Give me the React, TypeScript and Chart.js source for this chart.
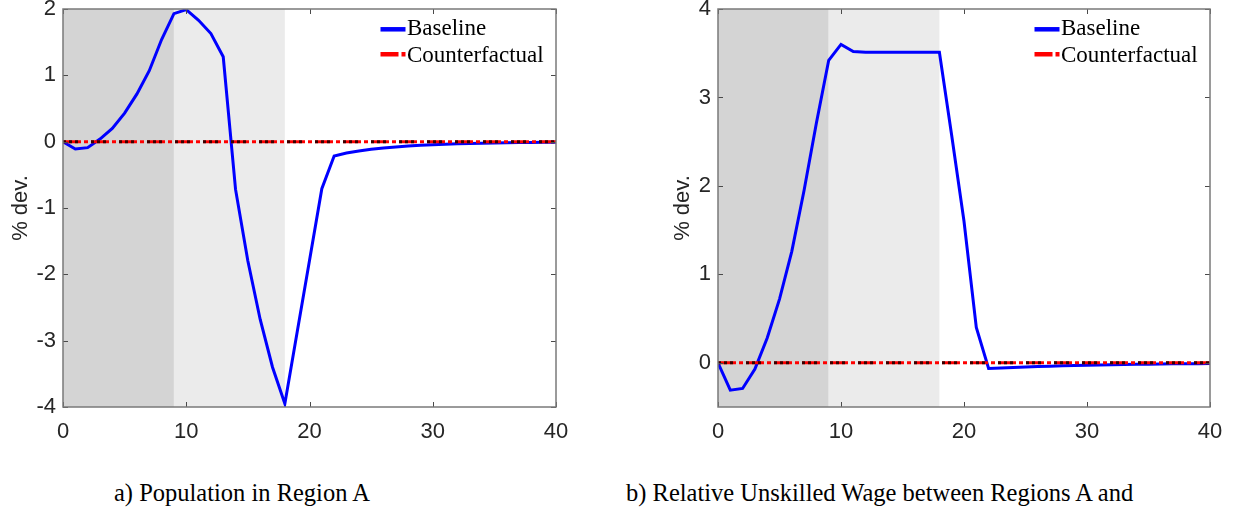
import React, { useEffect, useRef } from "react";
import { Chart, registerables } from "chart.js";

Chart.register(...registerables);

// ---------- data ----------
const periods = [0, 1, 2, 3, 4, 5, 6, 7, 8, 9, 10, 11, 12, 13, 14, 15, 16, 17, 18, 19, 20, 21, 22, 23, 24, 25, 26, 27, 28, 29, 30, 31, 32, 33, 34, 35, 36, 37, 38, 39, 40];

const populationBaseline = [0, -0.11, -0.09, 0.04, 0.2, 0.43, 0.72, 1.07, 1.54, 1.93, 1.99, 1.83, 1.63, 1.28, -0.72, -1.8, -2.68, -3.4, -3.95, -2.87, -1.79, -0.71, -0.215, -0.17, -0.14, -0.115, -0.095, -0.08, -0.065, -0.055, -0.045, -0.038, -0.032, -0.027, -0.023, -0.019, -0.016, -0.013, -0.011, -0.009, -0.008];
const populationCounterfactual = [0, 0, 0, 0, 0, 0, 0, 0, 0, 0, 0, 0, 0, 0, 0, 0, 0, 0, 0, 0, 0, 0, 0, 0, 0, 0, 0, 0, 0, 0, 0, 0, 0, 0, 0, 0, 0, 0, 0, 0, 0];

const wageBaseline = [0, -0.31, -0.29, -0.07, 0.28, 0.72, 1.26, 1.95, 2.71, 3.42, 3.6, 3.52, 3.51, 3.51, 3.51, 3.51, 3.51, 3.51, 3.51, 2.57, 1.6, 0.4, -0.065, -0.058, -0.052, -0.047, -0.042, -0.038, -0.034, -0.031, -0.028, -0.025, -0.022, -0.02, -0.018, -0.016, -0.014, -0.012, -0.011, -0.01, -0.009];
const wageCounterfactual = [0, 0, 0, 0, 0, 0, 0, 0, 0, 0, 0, 0, 0, 0, 0, 0, 0, 0, 0, 0, 0, 0, 0, 0, 0, 0, 0, 0, 0, 0, 0, 0, 0, 0, 0, 0, 0, 0, 0, 0, 0];

const steadyStateLine = [0, 0, 0, 0, 0, 0, 0, 0, 0, 0, 0, 0, 0, 0, 0, 0, 0, 0, 0, 0, 0, 0, 0, 0, 0, 0, 0, 0, 0, 0, 0, 0, 0, 0, 0, 0, 0, 0, 0, 0, 0];

const xTickValues = [0, 10, 20, 30, 40];
const populationYTicks = [-4, -3, -2, -1, 0, 1, 2];
const wageYTicks = [0, 1, 2, 3, 4];

const shadeStart = [0, 9];
const shadeEnd = [9, 18];

const legendLabels = ["Baseline", "Counterfactual"];
const yAxisTitle = "% dev.";
const captionA = "a) Population in Region A";
const captionB = "b) Relative Unskilled Wage between Regions A and";

// ---------- styles ----------
const FONT_SANS = '"Liberation Sans", Arial, sans-serif';
const FONT_SERIF = '"Liberation Serif", "Times New Roman", serif';
const TEXT_COLOR = "#262626";
const SHADE_COLORS = ["#d4d4d4", "#ebebeb"];
const CANVAS_H = 450;
const PLOT_TOP = 9;
const PLOT_BOTTOM = 407;

type PanelSpec = {
  canvasLeft: number;
  canvasWidth: number;
  plotLeft: number;
  plotRight: number;
  baseline: number[];
  counterfactual: number[];
  yMin: number;
  yMax: number;
  yTicks: number[];
  titlePad: number;
};

const shadingPlugin = {
  id: "shading",
  beforeDraw(chart: any) {
    const { ctx, chartArea, scales } = chart;
    const x = scales.x;
    ctx.save();
    shadeStart.forEach((s, i) => {
      const x0 = x.getPixelForValue(s);
      const x1 = x.getPixelForValue(shadeEnd[i]);
      ctx.fillStyle = SHADE_COLORS[i];
      ctx.fillRect(x0, chartArea.top, x1 - x0, chartArea.bottom - chartArea.top);
    });
    ctx.restore();
  },
};

const framePlugin = {
  id: "frame",
  afterDraw(chart: any) {
    const { ctx, chartArea, scales } = chart;
    const { left, right, top, bottom } = chartArea;
    const x = scales.x;
    const y = scales.y;
    const tl = 5;
    ctx.save();
    ctx.strokeStyle = "#4a4a4a";
    ctx.lineWidth = 1;
    ctx.beginPath();
    x.ticks.forEach((t: any) => {
      const px = Math.round(x.getPixelForValue(t.value)) + 0.5;
      ctx.moveTo(px, bottom);
      ctx.lineTo(px, bottom - tl);
      ctx.moveTo(px, top);
      ctx.lineTo(px, top + tl);
    });
    y.ticks.forEach((t: any) => {
      const py = Math.round(y.getPixelForValue(t.value)) + 0.5;
      ctx.moveTo(left, py);
      ctx.lineTo(left + tl, py);
      ctx.moveTo(right, py);
      ctx.lineTo(right - tl, py);
    });
    ctx.stroke();
    ctx.strokeStyle = "#7a7a7a";
    ctx.lineWidth = 1.5;
    ctx.strokeRect(left, top, right - left, bottom - top);
    ctx.restore();
  },
};

const legendPlugin = {
  id: "insideLegend",
  afterDraw(chart: any) {
    const { ctx, chartArea } = chart;
    const { right, top } = chartArea;
    ctx.save();
    chart.data.datasets.slice(0, 2).forEach((ds: any, i: number) => {
      const sy = top + 20.3 + i * 25;
      ctx.beginPath();
      ctx.setLineDash(ds.borderDash || []);
      ctx.lineWidth = 4.5;
      ctx.strokeStyle = ds.borderColor;
      ctx.moveTo(right - 175.5, sy);
      ctx.lineTo(right - 150.5, sy);
      ctx.stroke();
      ctx.setLineDash([]);
      ctx.font = `23px ${FONT_SERIF}`;
      ctx.fillStyle = "#000";
      ctx.textBaseline = "alphabetic";
      ctx.textAlign = "left";
      ctx.fillText(ds.label, right - 149, top + 26 + i * 26.5);
    });
    ctx.restore();
  },
};

function Panel({ spec }: { spec: PanelSpec }) {
  const ref = useRef<HTMLCanvasElement>(null);
  useEffect(() => {
    const canvas = ref.current;
    if (!canvas) return;
    const chart = new Chart(canvas, {
      type: "line",
      data: {
        datasets: [
          {
            label: legendLabels[0],
            data: periods.map((p, i) => ({ x: p, y: spec.baseline[i] })),
            borderColor: "#0000ff",
            borderWidth: 3,
            pointRadius: 0,
            tension: 0,
            order: 3,
          },
          {
            label: legendLabels[1],
            data: periods.map((p, i) => ({ x: p, y: spec.counterfactual[i] })),
            borderColor: "#ff0000",
            borderWidth: 3,
            borderDash: [18, 3, 4, 3],
            pointRadius: 0,
            tension: 0,
            order: 2,
          },
          {
            label: "steady state",
            data: periods.map((p, i) => ({ x: p, y: steadyStateLine[i] })),
            borderColor: "rgba(20,0,0,0.85)",
            borderWidth: 3,
            borderDash: [3, 3, 3, 3, 3, 13],
            pointRadius: 0,
            tension: 0,
            order: 1,
          },
        ],
      },
      options: {
        responsive: false,
        animation: false,
        events: [],
        layout: {
          padding: {
            left: 0,
            top: PLOT_TOP,
            right: spec.canvasLeft + spec.canvasWidth - spec.plotRight,
            bottom: 0,
          },
        },
        plugins: {
          legend: { display: false },
          tooltip: { enabled: false },
          title: { display: false },
        },
        scales: {
          x: {
            type: "linear",
            min: 0,
            max: 40,
            grid: { display: false, drawTicks: false },
            border: { display: false },
            afterBuildTicks: (s: any) => {
              s.ticks = xTickValues.map((v) => ({ value: v }));
            },
            afterFit: (s: any) => {
              s.height = CANVAS_H - PLOT_BOTTOM;
              s.paddingLeft = 0;
              s.paddingRight = 0;
            },
            ticks: {
              padding: 12,
              color: TEXT_COLOR,
              font: { family: FONT_SANS, size: 22 },
              maxRotation: 0,
              autoSkip: false,
              callback: (v: any) => String(v),
            },
          },
          y: {
            type: "linear",
            min: spec.yMin,
            max: spec.yMax,
            grid: { display: false, drawTicks: false },
            border: { display: false },
            afterBuildTicks: (s: any) => {
              s.ticks = spec.yTicks.map((v) => ({ value: v }));
            },
            afterFit: (s: any) => {
              s.width = spec.plotLeft - spec.canvasLeft;
              s.paddingTop = 0;
              s.paddingBottom = 0;
            },
            ticks: {
              padding: 7,
              color: TEXT_COLOR,
              font: { family: FONT_SANS, size: 22 },
              autoSkip: false,
              callback: (v: any) => String(v),
            },
            title: {
              display: true,
              text: yAxisTitle,
              color: TEXT_COLOR,
              font: { family: FONT_SANS, size: 22, lineHeight: 1.2 },
              padding: { top: spec.titlePad, bottom: 0 },
            },
          },
        },
      },
      plugins: [shadingPlugin, framePlugin, legendPlugin],
    } as any);
    return () => chart.destroy();
  }, [spec]);
  return (
    <canvas
      ref={ref}
      width={spec.canvasWidth}
      height={CANVAS_H}
      style={{ position: "absolute", left: spec.canvasLeft, top: 0, width: spec.canvasWidth, height: CANVAS_H }}
    />
  );
}

const panelA: PanelSpec = {
  canvasLeft: 0,
  canvasWidth: 620,
  plotLeft: 63,
  plotRight: 556,
  baseline: populationBaseline,
  counterfactual: populationCounterfactual,
  yMin: -4,
  yMax: 2,
  yTicks: populationYTicks,
  titlePad: 7.8,
};

const panelB: PanelSpec = {
  canvasLeft: 640,
  canvasWidth: 593,
  plotLeft: 718,
  plotRight: 1210,
  baseline: wageBaseline,
  counterfactual: wageCounterfactual,
  yMin: -0.5,
  yMax: 4,
  yTicks: wageYTicks,
  titlePad: 29.3,
};

const captionStyle: React.CSSProperties = {
  position: "absolute",
  top: 481,
  fontFamily: FONT_SERIF,
  fontSize: 24.5,
  lineHeight: "24px",
  whiteSpace: "nowrap",
  color: "#000",
};

export default function App() {
  return (
    <div
      style={{
        position: "fixed",
        left: 0,
        top: 0,
        width: 1233,
        height: 512,
        overflow: "hidden",
        background: "#fff",
      }}
    >
      <Panel spec={panelA} />
      <Panel spec={panelB} />
      <div style={{ ...captionStyle, left: 114 }}>{captionA}</div>
      <div style={{ ...captionStyle, left: 626 }}>{captionB}</div>
    </div>
  );
}
